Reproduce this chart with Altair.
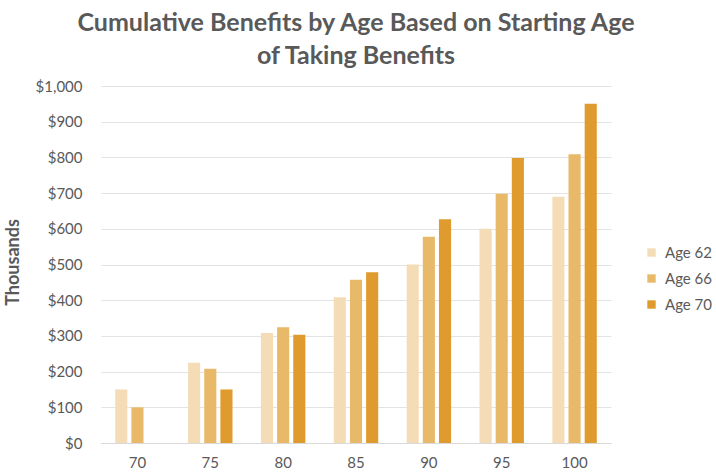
import altair as alt
import pandas as pd

ages = ["70", "75", "80", "85", "90", "95", "100"]
series = ["Age 62", "Age 66", "Age 70"]
age62 = [150, 225, 308, 408, 500, 600, 690]
age66 = [100, 208, 324, 457, 578, 698, 809]
age70 = [0, 150, 303, 478, 627, 798, 950]
colors = ["#F4DDB6", "#E9B96A", "#E09B2E"]

rows = []
for s, vals in zip(series, [age62, age66, age70]):
    for a, v in zip(ages, vals):
        rows.append({"age": a, "series": s, "value": v})
df = pd.DataFrame(rows)

FONT = "Lato"
TXT = "#595959"

chart = alt.Chart(df).mark_bar().encode(
    x=alt.X("age:N", sort=ages, title=None,
            scale=alt.Scale(paddingInner=0.39, paddingOuter=0.195),
            axis=alt.Axis(labelAngle=0, labelFont=FONT, labelFontSize=15, labelColor=TXT,
                          labelPadding=12, ticks=False, domainColor="#d9d9d9",
                          grid=False)),
    xOffset=alt.XOffset("series:N", sort=series,
                        scale=alt.Scale(paddingInner=0.25, paddingOuter=0)),
    y=alt.Y("value:Q", title="Thousands",
            scale=alt.Scale(domain=[0, 1000], nice=False),
            axis=alt.Axis(values=list(range(0, 1001, 100)), format="$,.0f",
                          labelFont=FONT, labelFontSize=15, labelColor=TXT,
                          labelPadding=19, ticks=False, domain=False,
                          gridColor="#e3e3e3", gridWidth=1,
                          titleFont=FONT, titleFontSize=18, titleFontWeight="bold",
                          titleColor=TXT, titleAngle=-90, titleX=-88, titleY=176,
                          titleAlign="center", titleBaseline="middle")),
    color=alt.Color("series:N", sort=series,
                    scale=alt.Scale(domain=series, range=colors),
                    legend=alt.Legend(title=None, orient="none", legendX=543, legendY=159,
                                      symbolType="square", symbolSize=70,
                                      symbolStrokeWidth=0,
                                      labelFont=FONT, labelFontSize=15, labelColor=TXT,
                                      rowPadding=10, labelOffset=6)),
).properties(
    width=510,
    height=357,
    title=alt.TitleParams(
        ["Cumulative Benefits by Age Based on Starting Age", "of Taking Benefits"],
        font=FONT, fontSize=25, fontWeight="bold", color=TXT,
        anchor="middle", offset=10, lineHeight=33,
    ),
    autosize=alt.AutoSizeParams(type="none"),
    padding={"left": 101, "top": 86, "right": 105, "bottom": 31},
).configure(background="white").configure_view(stroke=None)

chart.save("out.html", embed_options={"renderer": "svg", "actions": False})
